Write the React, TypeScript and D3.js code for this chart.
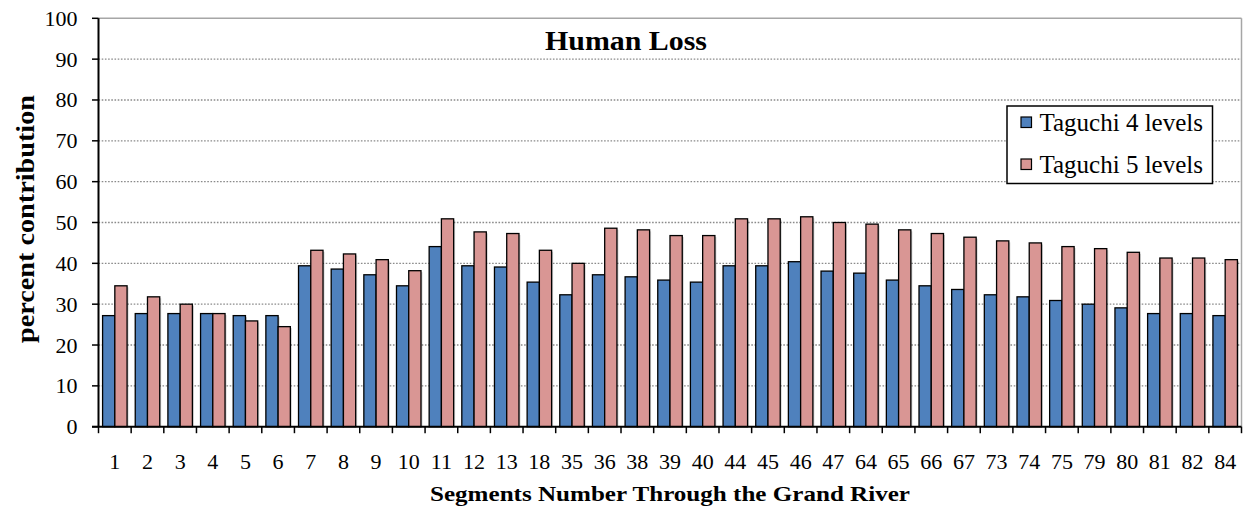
import React from "react";
import * as d3 from "d3";

// Segment labels along the Grand River
const segments: string[] = [
  "1", "2", "3", "4", "5", "6", "7", "8", "9", "10", "11", "12", "13", "18", "35",
  "36", "38", "39", "40", "44", "45", "46", "47", "64", "65", "66", "67", "73", "74",
  "75", "79", "80", "81", "82", "84",
];

// Percent contribution, Taguchi design with 4 levels
const taguchi4: number[] = [
  27.2, 27.7, 27.7, 27.7, 27.2, 27.2, 39.4, 38.6, 37.2, 34.5, 44.1, 39.4, 39.1, 35.4, 32.3,
  37.2, 36.7, 35.9, 35.4, 39.4, 39.4, 40.4, 38.1, 37.6, 35.9, 34.5, 33.6, 32.3, 31.8,
  30.9, 30.0, 29.1, 27.7, 27.7, 27.2,
];

// Percent contribution, Taguchi design with 5 levels
const taguchi5: number[] = [
  34.5, 31.8, 30.0, 27.7, 25.9, 24.5, 43.2, 42.3, 40.9, 38.2, 50.9, 47.7, 47.3, 43.2, 40.0,
  48.6, 48.2, 46.8, 46.8, 50.9, 50.9, 51.4, 50.0, 49.6, 48.2, 47.3, 46.4, 45.5, 45.0,
  44.1, 43.6, 42.7, 41.3, 41.3, 40.9,
];

const seriesNames: string[] = ["Taguchi 4 levels", "Taguchi 5 levels"];
const seriesColors: string[] = ["#4F81BD", "#D99694"];
const yTicks: number[] = [0, 10, 20, 30, 40, 50, 60, 70, 80, 90, 100];

const W = 1247;
const H = 510;
const plot = { left: 98.5, right: 1241.5, top: 18.3, bottom: 426.7 };
const FONT = "'Liberation Serif', 'Times New Roman', serif";

export default function App() {
  const x = d3
    .scaleBand<string>()
    .domain(segments)
    .range([plot.left, plot.right])
    .paddingInner(0.25)
    .paddingOuter(0.125);
  const inner = d3
    .scaleBand<number>()
    .domain([0, 1])
    .range([0, x.bandwidth()]);
  const y = d3.scaleLinear().domain([0, 100]).range([plot.bottom, plot.top]);
  const step = x.step();
  const series = [taguchi4, taguchi5];

  const boundaries = d3.range(segments.length + 1).map((i) => plot.left + i * step);

  return (
    <svg
      width={W}
      height={H}
      style={{ position: "absolute", left: 0, top: 0, background: "#fff" }}
      fontFamily={FONT}
    >
      {/* gridlines */}
      {yTicks
        .filter((t) => t > 0 && t < 100)
        .map((t) => (
          <line
            key={"g" + t}
            x1={plot.left}
            x2={plot.right}
            y1={y(t)}
            y2={y(t)}
            stroke="#8a8a8a"
            strokeWidth={1.3}
            strokeDasharray="1.6,1.6"
          />
        ))}
      {/* plot frame: top and right edges */}
      <line x1={plot.left} x2={plot.right} y1={y(100)} y2={y(100)} stroke="#a6a6a6" strokeWidth={1.5} />
      <line x1={plot.right} x2={plot.right} y1={y(100)} y2={plot.bottom} stroke="#a6a6a6" strokeWidth={1.5} />

      {/* bars */}
      {series.map((vals, si) =>
        segments.map((s, i) => {
          const bx = (x(s) as number) + (inner(si) as number);
          const by = y(vals[i]);
          const bw = inner.bandwidth();
          const bh = plot.bottom - by;
          return (
            <g key={si + "-" + s}>
              <rect x={bx + 1.5} y={by + 1.5} width={bw} height={bh - 1.5} fill="#000" opacity={0.18} />
              <rect
                x={bx}
                y={by}
                width={bw}
                height={bh}
                fill={seriesColors[si]}
                stroke="#000"
                strokeWidth={1.3}
              />
            </g>
          );
        })
      )}

      {/* y axis */}
      <line x1={plot.left} x2={plot.left} y1={plot.top} y2={plot.bottom} stroke="#000" strokeWidth={2} />
      {yTicks.map((t) => (
        <g key={"y" + t}>
          <line x1={plot.left - 6.5} x2={plot.left} y1={y(t)} y2={y(t)} stroke="#000" strokeWidth={1.5} />
          <text x={plot.left - 21} y={y(t) + 7.5} textAnchor="end" fontSize={22} fill="#000">
            {t}
          </text>
        </g>
      ))}

      {/* x axis */}
      <line x1={plot.left - 6.5} x2={plot.right} y1={plot.bottom} y2={plot.bottom} stroke="#000" strokeWidth={2} />
      {boundaries.map((bx, i) => (
        <line key={"xt" + i} x1={bx} x2={bx} y1={plot.bottom} y2={plot.bottom + 6.5} stroke="#000" strokeWidth={1.5} />
      ))}
      {segments.map((s) => (
        <text
          key={"xl" + s}
          x={(x(s) as number) + x.bandwidth() / 2}
          y={469}
          textAnchor="middle"
          fontSize={22}
          fill="#000"
        >
          {s}
        </text>
      ))}

      {/* titles */}
      <text
        x={626}
        y={49.5}
        textAnchor="middle"
        fontSize={27}
        fontWeight="bold"
        fill="#000"
        textLength={162}
        lengthAdjust="spacingAndGlyphs"
      >
        Human Loss
      </text>
      <text
        x={670}
        y={501}
        textAnchor="middle"
        fontSize={22}
        fontWeight="bold"
        fill="#000"
        textLength={480}
        lengthAdjust="spacingAndGlyphs"
      >
        Segments Number Through the Grand River
      </text>
      <text
        transform={`translate(34,219) rotate(-90)`}
        textAnchor="middle"
        fontSize={25}
        fontWeight="bold"
        fill="#000"
        textLength={248}
        lengthAdjust="spacingAndGlyphs"
      >
        percent contribution
      </text>

      {/* legend */}
      <g>
        <rect x={1007} y={106} width={205.5} height={77.5} fill="#fff" stroke="#000" strokeWidth={1.5} />
        {seriesNames.map((n, i) => (
          <g key={n} transform={`translate(1021,${122 + i * 42})`}>
            <rect x={0} y={-5} width={10.5} height={10.5} fill={seriesColors[i]} stroke="#000" strokeWidth={1.2} />
            <text x={18.5} y={8.5} fontSize={25} fill="#000">
              {n}
            </text>
          </g>
        ))}
      </g>
    </svg>
  );
}
